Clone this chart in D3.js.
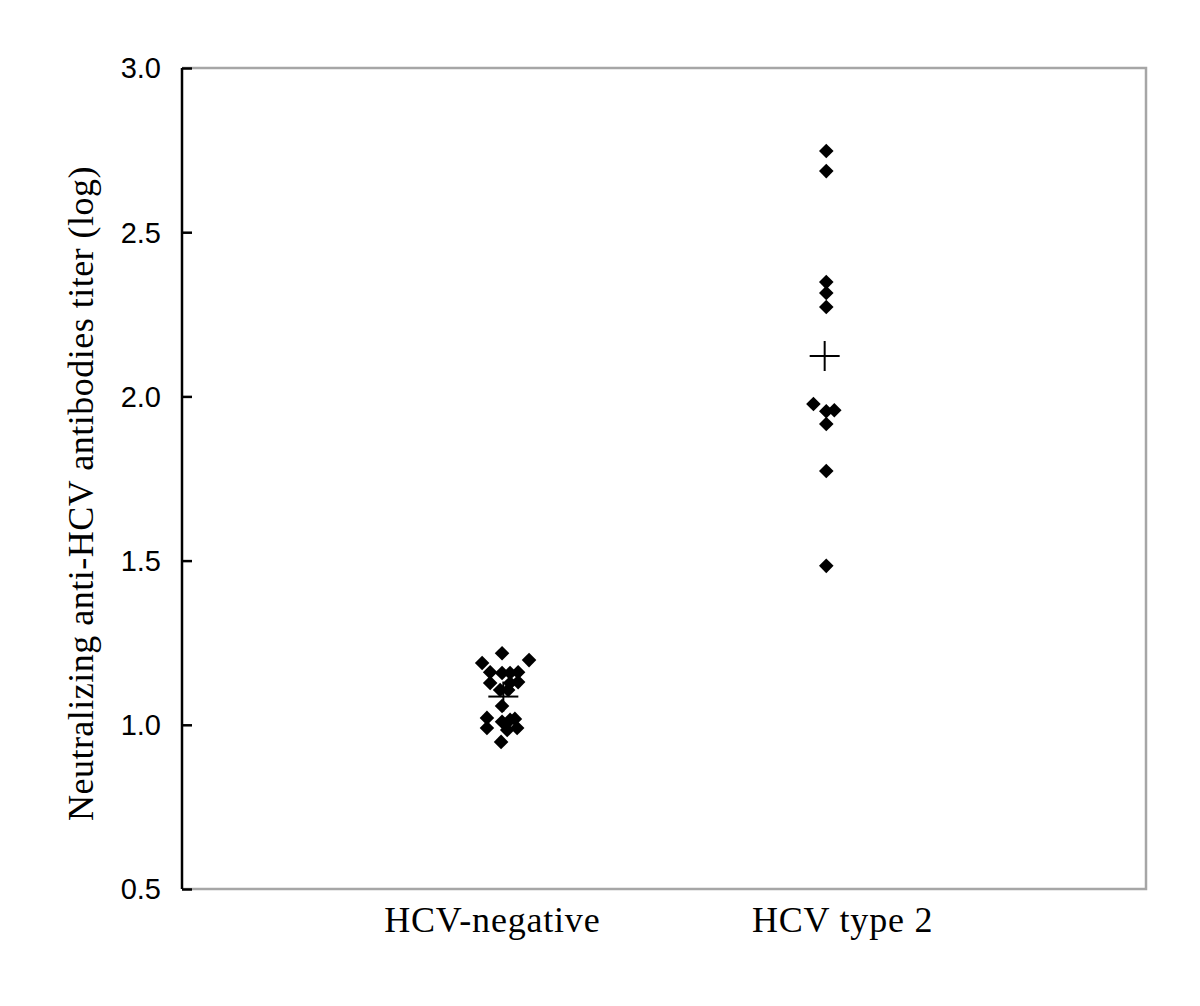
<!DOCTYPE html>
<html>
<head>
<meta charset="utf-8">
<script src="https://cdn.jsdelivr.net/npm/d3@7"></script>
<style>
  html, body { margin: 0; padding: 0; background: #fff; }
  svg { display: block; }
</style>
</head>
<body>
<svg id="chart" width="1200" height="1006"></svg>
<script>
// ---- data ----
const categories = ["HCV-negative", "HCV type 2"];
const categoryPos = [1, 2];
// HCV-negative group: x (category position with jitter) and log titer
const negX = [0.996, 0.934, 1.080, 0.959, 0.996, 1.021, 1.046, 0.959, 1.021, 1.046, 0.990, 1.015, 0.996, 0.949, 1.036, 0.996, 1.021, 0.949, 1.043, 1.012, 0.993];
const negY = [1.218, 1.188, 1.197, 1.160, 1.158, 1.158, 1.160, 1.127, 1.127, 1.130, 1.106, 1.106, 1.057, 1.021, 1.018, 1.009, 1.015, 0.990, 0.990, 0.984, 0.948];
// HCV type 2 group
const t2X = [2.005, 2.005, 2.005, 2.005, 2.005, 1.965, 2.005, 2.030, 2.005, 2.005, 2.005];
const t2Y = [2.747, 2.686, 2.348, 2.315, 2.272, 1.977, 1.955, 1.958, 1.916, 1.773, 1.484];
// group means (crosses)
const means = [1.086, 2.123];
const yTicks = [0.5, 1.0, 1.5, 2.0, 2.5, 3.0];
const yTitle = "Neutralizing anti-HCV antibodies titer (log)";

(function () {
// ---- layout ----
const svg = d3.select("#chart");
const pLeft = 182, pRight = 1146, pTop = 68, pBottom = 889;

const x = d3.scaleLinear().domain([0, 3]).range([pLeft, pRight]);
const y = d3.scaleLinear().domain([0.5, 3.0]).range([pBottom, pTop]);

// frame (grey top/right/bottom)
svg.append("path")
  .attr("d", `M${pLeft},${pTop}H${pRight}V${pBottom}H${pLeft}`)
  .attr("fill", "none")
  .attr("stroke", "#a6a6a6")
  .attr("stroke-width", 2.5);

// y axis (black, inward ticks)
const yAxis = d3.axisRight(y)
  .tickValues(yTicks)
  .tickSize(10)
  .tickFormat("");
const gy = svg.append("g").attr("transform", `translate(${pLeft},0)`).call(yAxis);
gy.select(".domain").attr("stroke", "#000").attr("stroke-width", 2.5)
  .attr("d", `M0,${pTop}V${pBottom}`);
gy.selectAll(".tick line").attr("stroke", "#000").attr("stroke-width", 2.5);

// tick labels
svg.append("g").selectAll("text")
  .data(yTicks)
  .join("text")
  .attr("x", pLeft - 21)
  .attr("y", d => y(d))
  .attr("dy", "0.36em")
  .attr("text-anchor", "end")
  .attr("font-family", "Liberation Sans, Arial, sans-serif")
  .attr("font-size", 29)
  .attr("fill", "#000")
  .text(d => d3.format(".1f")(d));

// category labels
const labelShift = [-11, 18];
svg.append("g").selectAll("text")
  .data(categories)
  .join("text")
  .attr("x", (d, i) => x(categoryPos[i]) + labelShift[i])
  .attr("y", 932)
  .attr("text-anchor", "middle")
  .attr("font-family", "Liberation Serif, Times New Roman, serif")
  .attr("font-size", 36)
  .attr("letter-spacing", 0.8)
  .attr("fill", "#000")
  .text(d => d);

// y title
svg.append("text")
  .attr("transform", `translate(93,${(165 + 822) / 2}) rotate(-90)`)
  .attr("text-anchor", "middle")
  .attr("font-family", "Liberation Serif, Times New Roman, serif")
  .attr("font-size", 36)
  .attr("letter-spacing", 0.5)
  .attr("fill", "#000")
  .text(yTitle);

// points
const diamond = d3.symbol().type(d3.symbolSquare).size(106);
const pts = negX.map((v, i) => ({x: v, y: negY[i]}))
  .concat(t2X.map((v, i) => ({x: v, y: t2Y[i]})));
svg.append("g").selectAll("path")
  .data(pts)
  .join("path")
  .attr("d", diamond)
  .attr("transform", d => `translate(${x(d.x)},${y(d.y)}) rotate(45)`)
  .attr("fill", "#000");

// mean crosses
const arm = 15;
const gm = svg.append("g").attr("stroke", "#000").attr("stroke-width", 2);
means.forEach((m, i) => {
  const cx = x(categoryPos[i]), cy = y(m);
  gm.append("line").attr("x1", cx - arm).attr("x2", cx + arm).attr("y1", cy).attr("y2", cy);
  gm.append("line").attr("x1", cx).attr("x2", cx).attr("y1", cy - arm).attr("y2", cy + arm);
});
})();
</script>
</body>
</html>
